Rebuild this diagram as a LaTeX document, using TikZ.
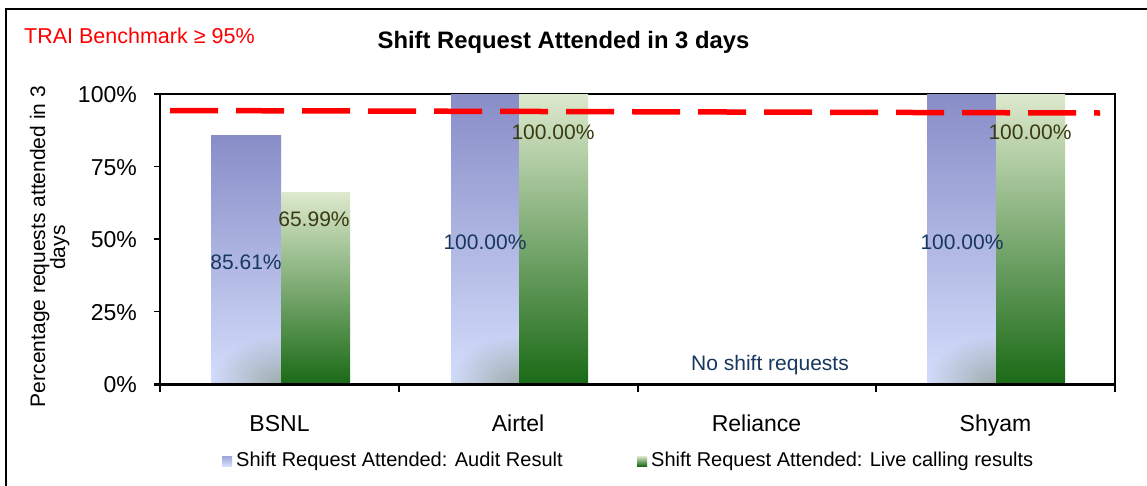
\documentclass[tikz,border=0pt]{standalone}
\usepackage{fontspec}
\setmainfont{Liberation Sans}
\usetikzlibrary{fadings}
\tikzfading[name=cornerfade, inner color=transparent!0, outer color=transparent!100]
\definecolor{bTop}{RGB}{136,141,199}
\definecolor{bLight}{RGB}{212,222,252}
\definecolor{bCorner}{RGB}{140,156,146}
\definecolor{gTop}{RGB}{221,233,205}
\definecolor{gMid}{RGB}{160,186,112}
\definecolor{gBot}{RGB}{26,106,22}
\definecolor{navy}{RGB}{23,55,94}
\definecolor{olive}{RGB}{58,58,18}
\newcommand{\fsz}[1]{\fontsize{#1}{#1}\selectfont}
\newcommand{\barBlue}[3]{%
  \shade[top color=bTop, middle color=bLight, bottom color=bLight] (#1,#3) rectangle (#2,384);
  \begin{scope}
    \clip (#1,#3) rectangle (#2,384);
    \fill[bCorner, path fading=cornerfade, opacity=0.75] (#2,384) ellipse[x radius=70pt, y radius=48pt];
  \end{scope}}
\newcommand{\barGreen}[3]{%
  \shade[top color=gTop, middle color=gMid, bottom color=gBot] (#1,#3) rectangle (#2,384);}
\begin{document}
\begin{tikzpicture}[x=1pt,y=-1pt,
  lbl/.style={inner sep=0pt, text depth=0pt},
  tick/.style={lbl, anchor=east, font=\fsz{23}, text height=16.47pt},
  cat/.style={lbl, font=\fsz{23}, text height=16.47pt},
  val/.style={lbl, font=\fsz{21}, text height=15.04pt},
  yt/.style={lbl, rotate=90, font=\fsz{21}, text height=15.04pt},
  leg/.style={lbl, anchor=west, font=\fsz{20}, text height=14.32pt},
  axis/.style={black, line width=1.6pt},
  bench/.style={red, line width=5.5pt, dash pattern=on 48pt off 18pt}]
\useasboundingbox (0,0) rectangle (1147,485);
\fill[white] (0,0) rectangle (1147,485);
% outer frame
\draw[line width=2pt] (6,500) -- (6,9) -- (1160,9);
% plot frame
\draw[axis] (160,94) -- (1115,94) -- (1115,392);
% bars
\barBlue{211}{281}{135.7}
\barGreen{281}{350}{192.6}
\barBlue{451}{519}{94}
\barGreen{519}{588}{94}
\barBlue{927}{996}{94}
\barGreen{996}{1065}{94}
% axes
\draw[axis] (160,94) -- (160,392);
\foreach \yy in {94,166.5,239,311.5}{\draw[axis] (154,\yy) -- (160,\yy);}
\draw[black, line width=3pt] (154,384) -- (1115,384);
\foreach \xx in {399,638,876}{\draw[axis] (\xx,384) -- (\xx,392);}
% benchmark line
\coordinate (b1) at (170,110.5);
\coordinate (b2) at (1100,113);
\draw[bench] (b1) -- (b2);
% tick labels
\node[tick] (t100) at (137,94.5) {100\%};
\node[tick] (t75) at (137,167) {75\%};
\node[tick] (t50) at (137,239.5) {50\%};
\node[tick] (t25) at (137,312) {25\%};
\node[tick] (t0) at (137,384.5) {0\%};
% y axis title
\node[yt] (yl1) at (37.5,246.5) {Percentage requests attended in 3};
\node[yt] (yl2) at (57.5,247.5) {days};
% categories
\node[cat] (c1) at (279.5,423) {BSNL};
\node[cat] (c2) at (518,423) {Airtel};
\node[cat] (c3) at (756.5,423) {Reliance};
\node[cat] (c4) at (995.5,423) {Shyam};
% value labels
\node[val, text=navy] (v1) at (246,262) {85.61\%};
\node[val, text=olive] (v2) at (314,219) {65.99\%};
\node[val, text=navy] (v3) at (485,242) {100.00\%};
\node[val, text=olive] (v4) at (553,131.5) {100.00\%};
\node[val, text=navy] (v5) at (962,242) {100.00\%};
\node[val, text=olive] (v6) at (1030,131.5) {100.00\%};
\node[val, text=navy] (nsr) at (770,362.5) {No shift requests};
% title and benchmark text
\node[lbl, font=\bfseries\fsz{23.8}, text height=17.04pt] (title) at (563.5,40) {Shift Request Attended in 3 days};
\node[lbl, anchor=west, text=red, font=\fsz{21.5}, text height=15.39pt] (trai) at (24,35.5) {TRAI Benchmark ≥ 95\%};
% legend
\shade[top color=bTop!70!bLight, bottom color=bLight] (222,456) rectangle (232,466);
\node[leg] (l1) at (236,459.5) {Shift Request Attended: Audit Result};
\shade[top color=gTop, middle color=gMid, bottom color=gBot] (637,456) rectangle (647,466);
\node[leg] (l2) at (651,459.5) {Shift Request Attended: Live calling results};
\end{tikzpicture}
\end{document}
